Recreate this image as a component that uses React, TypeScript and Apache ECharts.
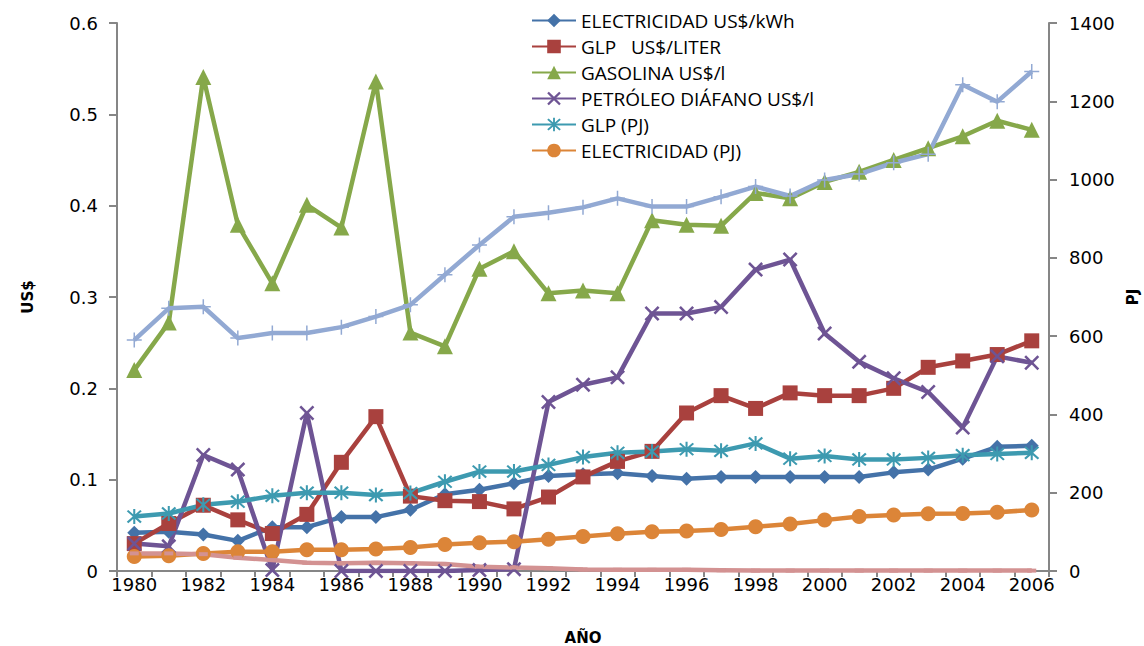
import React, { useEffect, useRef } from "react";
import * as echarts from "echarts";

const years = ["1980","1981","1982","1983","1984","1985","1986","1987","1988","1989","1990","1991","1992","1993","1994","1995","1996","1997","1998","1999","2000","2001","2002","2003","2004","2005","2006"];

const elecUsd = [0.042,0.043,0.040,0.033,0.048,0.048,0.059,0.059,0.067,0.084,0.089,0.096,0.104,0.106,0.107,0.104,0.101,0.103,0.103,0.103,0.103,0.103,0.108,0.111,0.123,0.136,0.137];
const glpUsd = [0.030,0.052,0.072,0.056,0.041,0.062,0.119,0.169,0.082,0.077,0.076,0.068,0.081,0.103,0.120,0.131,0.173,0.192,0.178,0.195,0.192,0.192,0.200,0.223,0.230,0.237,0.252];
const gasolinaUsd = [0.220,0.272,0.541,0.379,0.315,0.401,0.376,0.536,0.261,0.246,0.331,0.350,0.304,0.307,0.304,0.384,0.379,0.378,0.414,0.408,0.426,0.437,0.450,0.463,0.476,0.493,0.483];
const petroleoUsd = [0.030,0.027,0.127,0.111,0.001,0.173,0.000,0.000,0.000,0.000,0.001,0.002,0.185,0.204,0.212,0.282,0.282,0.289,0.330,0.341,0.260,0.229,0.211,0.196,0.157,0.235,0.228];
const glpPJ = [139,147,169,177,192,200,200,194,199,228,254,254,271,291,302,305,311,307,326,287,294,285,285,289,296,299,302];
const elecPJ = [37,39,45,49,49,54,54,56,60,68,72,75,81,88,95,100,102,106,113,120,130,139,143,146,147,150,156];
const gasolinaPJ = [590,671,675,595,608,608,623,650,680,757,833,905,915,929,952,931,931,956,982,958,999,1014,1043,1065,1242,1199,1276];
const petroleoPJ = [45,45,43,34,28,21,20,21,20,18,11,9,7,4,3,3,3,2,1,1,1,1,1,1,1,1,1];

const legendNames = ["ELECTRICIDAD US$/kWh","GLP   US$/LITER","GASOLINA US$/l","PETRÓLEO DIÁFANO US$/l","GLP (PJ)","ELECTRICIDAD (PJ)"];

const X_SYMBOL = "path://M0,1.2 L1.2,0 L5,3.8 L8.8,0 L10,1.2 L6.2,5 L10,8.8 L8.8,10 L5,6.2 L1.2,10 L0,8.8 L3.8,5 Z";
const STAR_SYMBOL = "path://M4.4,0 L5.6,0 L5.6,10 L4.4,10 Z M0.6,1.5 L1.5,0.6 L5,4.1 L8.5,0.6 L9.4,1.5 L5.9,5 L9.4,8.5 L8.5,9.4 L5,5.9 L1.5,9.4 L0.6,8.5 L4.1,5 Z";
const PLUS_SYMBOL = "path://M4.5,0 L5.5,0 L5.5,10 L4.5,10 Z M0,4.5 L10,4.5 L10,5.5 L0,5.5 Z";

export default function App() {
  const ref = useRef<HTMLDivElement>(null);
  useEffect(() => {
    if (!ref.current) return;
    const chart = echarts.init(ref.current, null, { renderer: "svg" });
    const lineW = 4.5;
    const mk = (name: string, data: number[], color: string, symbol: string, size: any, yAxisIndex: number) => ({
      name,
      type: "line",
      data,
      yAxisIndex,
      symbol,
      symbolSize: size,
      showSymbol: true,
      lineStyle: { color, width: lineW },
      itemStyle: { color, borderWidth: 0 },
      emphasis: { disabled: true },
    });
    const axisFont = { fontFamily: "DejaVu Sans", fontSize: 18, color: "#000" };
    const nameFont = { fontFamily: "DejaVu Sans", fontSize: 15, fontWeight: "bold", color: "#000" };
    chart.setOption({
      animation: false,
      backgroundColor: "#ffffff",
      grid: { left: 117, right: 95, top: 23, bottom: 75, outerBoundsMode: "none", containLabel: false },
      legend: {
        data: legendNames,
        orient: "vertical",
        left: 526,
        top: 6,
        itemGap: 7,
        itemWidth: 44,
        itemHeight: 17,
        textStyle: { fontFamily: "Open Sans", fontSize: 19, lineHeight: 17, color: "#000" },
      },
      xAxis: {
        type: "category",
        data: years,
        boundaryGap: true,
        name: "AÑO",
        nameLocation: "middle",
        nameGap: 59,
        nameTextStyle: nameFont,
        axisLine: { lineStyle: { color: "#868686", width: 2 } },
        axisTick: { show: true, interval: 0, length: 6, lineStyle: { color: "#868686", width: 2 } },
        axisLabel: { interval: 1, margin: 4, ...axisFont },
        splitLine: { show: false },
      },
      yAxis: [
        {
          type: "value",
          min: 0,
          max: 0.6,
          interval: 0.1,
          name: "US$",
          nameLocation: "middle",
          nameGap: 82,
          nameRotate: 90,
          nameTextStyle: nameFont,
          axisLine: { show: true, lineStyle: { color: "#868686", width: 2 } },
          axisTick: { show: true, length: 8, lineStyle: { color: "#868686", width: 2 } },
          axisLabel: { margin: 19, ...axisFont },
          splitLine: { show: false },
        },
        {
          type: "value",
          min: 0,
          max: 1400,
          interval: 200,
          name: "PJ",
          nameLocation: "middle",
          nameGap: 75,
          nameRotate: 90,
          nameTextStyle: nameFont,
          axisLine: { show: true, lineStyle: { color: "#868686", width: 2 } },
          axisTick: { show: true, length: 8, lineStyle: { color: "#868686", width: 2 } },
          axisLabel: { margin: 20, formatter: (v: number) => String(v), ...axisFont },
          splitLine: { show: false },
        },
      ],
      series: [
        mk(legendNames[0], elecUsd, "#4472A8", "diamond", 14, 0),
        mk(legendNames[1], glpUsd, "#A9413E", "rect", 15, 0),
        mk(legendNames[2], gasolinaUsd, "#86A84A", "triangle", 16, 0),
        mk(legendNames[3], petroleoUsd, "#6E5494", X_SYMBOL, 15, 0),
        mk(legendNames[4], glpPJ, "#3D9AB0", STAR_SYMBOL, 15, 1),
        mk(legendNames[5], elecPJ, "#DC8538", "circle", 15, 1),
        mk("GASOLINA (PJ)", gasolinaPJ, "#92A9D3", PLUS_SYMBOL, 15, 1),
        mk("PETRÓLEO DIÁFANO (PJ)", petroleoPJ, "#D39292", "rect", [9, 4], 1),
      ],
    });
    return () => chart.dispose();
  }, []);
  return <div ref={ref} style={{ width: 1144, height: 646, position: "absolute", left: 0, top: 0 }} />;
}
